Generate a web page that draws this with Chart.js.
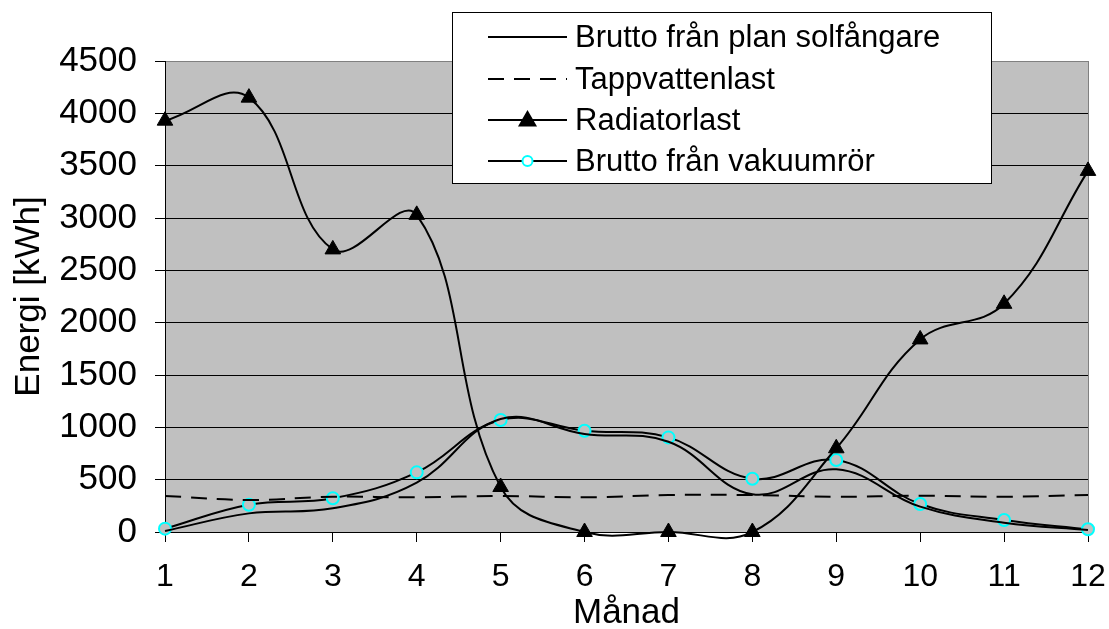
<!DOCTYPE html>
<html><head><meta charset="utf-8">
<script src="https://cdn.jsdelivr.net/npm/chart.js@4.4.1/dist/chart.umd.min.js"></script>
<style>html,body{margin:0;padding:0;background:#fff;}canvas{display:block;}</style>
</head><body>
<canvas id="c" width="1109" height="629"></canvas>
<script>
// ---- data ----
const months = ['1','2','3','4','5','6','7','8','9','10','11','12'];
const planSolfangare = [10, 178, 226, 471, 1080, 936, 862, 360, 599, 242, 89, 20];
const tappvattenlast = [344, 306, 337, 331, 344, 331, 353, 353, 337, 347, 337, 353];
const radiatorlast   = [3930, 4150, 2700, 3030, 430, 0, 0, 0, 800, 1840, 2180, 3450];
const vakuumror      = [32, 261, 322, 570, 1070, 968, 904, 509, 688, 267, 115, 26];
const seriesNames = ['Brutto från plan solfångare', 'Tappvattenlast', 'Radiatorlast', 'Brutto från vakuumrör'];
const yMin = 0, yMax = 4500, yStep = 500;
const xTitle = 'Månad';
const yTitle = 'Energi [kWh]';

const FONT = "'Liberation Sans', Arial, sans-serif";
Chart.defaults.font.family = FONT;
Chart.defaults.color = '#000';

const bgPlugin = {
  id: 'plotBg',
  beforeDraw(chart) {
    const {ctx, chartArea: a} = chart;
    ctx.save();
    ctx.fillStyle = '#C0C0C0';
    ctx.fillRect(a.left, a.top, a.right - a.left, a.bottom - a.top);
    ctx.restore();
  },
  beforeDatasetsDraw(chart) {
    const {ctx, chartArea: a} = chart;
    ctx.save();
    ctx.strokeStyle = '#808080';
    ctx.lineWidth = 1;
    ctx.beginPath();
    ctx.moveTo(Math.round(a.right) + 0.5, a.top);
    ctx.lineTo(Math.round(a.right) + 0.5, a.bottom);
    ctx.stroke();
    ctx.restore();
  }
};

const legendPlugin = {
  id: 'boxLegend',
  afterDraw(chart) {
    const ctx = chart.ctx;
    const bx = 452, by = 12, bw = 539, bh = 171;
    ctx.save();
    ctx.fillStyle = '#fff';
    ctx.fillRect(bx, by, bw, bh);
    ctx.strokeStyle = '#000';
    ctx.lineWidth = 1;
    ctx.strokeRect(bx + 0.5, by + 0.5, bw, bh);
    const rowY = [37, 79, 120, 161];
    const x0 = 488, x1 = 567;
    chart.data.datasets.forEach((ds, i) => {
      const y = rowY[i];
      ctx.save();
      ctx.strokeStyle = '#000';
      ctx.lineWidth = 2;
      ctx.setLineDash(ds.borderDash || []);
      ctx.beginPath();
      ctx.moveTo(x0, y);
      ctx.lineTo(x1, y);
      ctx.stroke();
      ctx.setLineDash([]);
      const cx = (x0 + x1) / 2;
      if (ds.pointStyle === 'triangle') {
        Chart.helpers.drawPoint(ctx, {pointStyle: 'triangle', radius: 9, borderWidth: 1, rotation: 0}, cx, y + 1);
        ctx.fillStyle = '#000';
        ctx.fill();
      } else if (ds.pointStyle === 'circle' && ds.pointRadius > 0) {
        ctx.beginPath();
        ctx.arc(cx, y, 5, 0, Math.PI * 2);
        ctx.fillStyle = '#fff';
        ctx.fill();
        ctx.strokeStyle = '#00FFFF';
        ctx.lineWidth = 2;
        ctx.stroke();
      }
      ctx.restore();
      ctx.fillStyle = '#000';
      ctx.font = '31px ' + FONT;
      ctx.textBaseline = 'middle';
      ctx.textAlign = 'left';
      ctx.fillText(ds.label, 575, y + 1);
    });
    ctx.restore();
  }
};

const TENSION = 0.4;

new Chart(document.getElementById('c'), {
  type: 'line',
  data: {
    labels: months,
    datasets: [
      { label: seriesNames[0], data: planSolfangare, borderColor: '#000', borderWidth: 2,
        pointRadius: 0, pointStyle: 'line', tension: TENSION },
      { label: seriesNames[1], data: tappvattenlast, borderColor: '#000', borderWidth: 2,
        borderDash: [16, 10], pointRadius: 0, pointStyle: 'line', tension: TENSION },
      { label: seriesNames[2], data: radiatorlast, borderColor: '#000', borderWidth: 2,
        pointStyle: 'triangle', pointRadius: 9, pointBackgroundColor: '#000', pointBorderColor: '#000',
        pointBorderWidth: 1, tension: TENSION, clip: false },
      { label: seriesNames[3], data: vakuumror, borderColor: '#000', borderWidth: 2,
        pointStyle: 'circle', pointRadius: 6, pointBackgroundColor: '#C0C0C0', pointBorderColor: '#00FFFF',
        pointBorderWidth: 2, tension: TENSION, clip: false }
    ]
  },
  options: {
    responsive: false,
    devicePixelRatio: 1,
    animation: false,
    events: [],
    layout: { padding: { top: 61, right: 21, left: 0, bottom: 0 } },
    plugins: { legend: { display: false }, tooltip: { enabled: false } },
    elements: { line: { capBezierPoints: false } },
    scales: {
      x: {
        type: 'category',
        offset: false,
        grid: { drawOnChartArea: false, drawTicks: true, tickLength: 10, color: '#000', tickColor: '#000', lineWidth: 1 },
        border: { display: true, color: '#000', width: 1 },
        ticks: { font: { size: 32 }, color: '#000', padding: 16, maxRotation: 0, autoSkip: false },
        title: { display: true, text: xTitle, font: { size: 35, lineHeight: 1 }, color: '#000', padding: { top: 0, bottom: -2 } },
        afterFit(s) { s.height = 97; s.paddingLeft = 0; s.paddingRight = 0; }
      },
      y: {
        min: yMin, max: yMax,
        grid: {
          color: (c) => (c.tick && c.tick.value === yMax) ? '#808080' : '#000',
          tickColor: '#000', tickLength: 10, lineWidth: 1
        },
        border: { display: true, color: '#000', width: 1 },
        ticks: { stepSize: yStep, font: { size: 35 }, color: '#000', padding: 18,
          callback: (v) => String(v) },
        title: { display: true, text: yTitle, font: { size: 35, lineHeight: 1 }, color: '#000', padding: { top: 12, bottom: 0 } },
        afterFit(s) { s.width = 165; s.paddingTop = 0; s.paddingBottom = 0; }
      }
    }
  },
  plugins: [bgPlugin, legendPlugin]
});
</script>
</body></html>
